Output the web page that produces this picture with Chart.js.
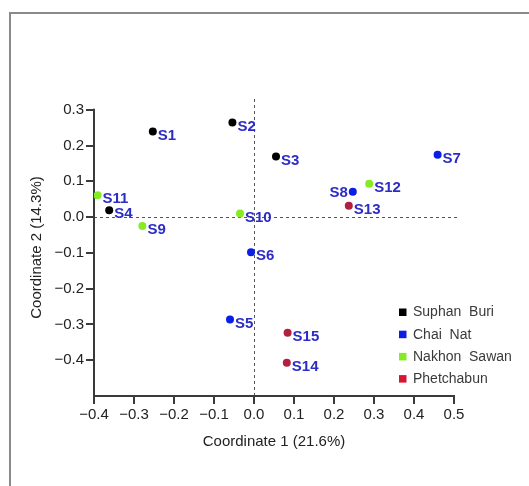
<!DOCTYPE html>
<html>
<head>
<meta charset="utf-8">
<script src="https://cdn.jsdelivr.net/npm/chart.js@4/dist/chart.umd.min.js"></script>
<style>
  html, body { margin: 0; padding: 0; background: #ffffff; }
  #wrap { position: relative; width: 529px; height: 486px; overflow: hidden; }
  #frame { position: absolute; left: 9px; top: 12px; width: 600px; height: 600px;
           border-left: 2px solid #8a8a8a; border-top: 2px solid #8a8a8a; }
  canvas { position: absolute; left: 0; top: 0; }
</style>
</head>
<body>
<div id="wrap">
  <div id="frame"></div>
  <canvas id="c" width="529" height="486"></canvas>
</div>
<script>
// ---- data ----
const groupNames = ['Suphan Buri', 'Chai Nat', 'Nakhon Sawan', 'Phetchabun'];

const suphanLabels = ['S1', 'S2', 'S3', 'S4'];
const suphanX = [-0.253, -0.054, 0.055, -0.362];
const suphanY = [0.239, 0.264, 0.169, 0.019];

const chaiLabels = ['S5', 'S6', 'S7', 'S8'];
const chaiX = [-0.060, -0.0075, 0.459, 0.247];
const chaiY = [-0.286, -0.098, 0.174, 0.071];

const nakhonLabels = ['S9', 'S10', 'S11', 'S12'];
const nakhonX = [-0.279, -0.035, -0.391, 0.288];
const nakhonY = [-0.025, 0.010, 0.061, 0.093];

const phetLabels = ['S13', 'S14', 'S15'];
const phetX = [0.237, 0.082, 0.084];
const phetY = [0.032, -0.407, -0.323];

const xTickValues = [-0.4, -0.3, -0.2, -0.1, 0.0, 0.1, 0.2, 0.3, 0.4, 0.5];
const yTickValues = [-0.4, -0.3, -0.2, -0.1, 0.0, 0.1, 0.2, 0.3];

const xTitle = 'Coordinate 1 (21.6%)';
const yTitle = 'Coordinate 2 (14.3%)';

// ---- styling ----
const markerColors = ['#000000', '#0a1ee6', '#86ec22', '#b3203f'];
const legendColors = ['#000000', '#0a1ee6', '#86ec22', '#d81433'];
const labelColor = '#2c2cc6';
const axisColor = '#3a3a3a';

function pts(xs, ys) { return xs.map((x, i) => ({ x: x, y: ys[i] })); }
const groupLabels = [suphanLabels, chaiLabels, nakhonLabels, phetLabels];
const groupData = [pts(suphanX, suphanY), pts(chaiX, chaiY), pts(nakhonX, nakhonY), pts(phetX, phetY)];

const datasets = groupNames.map((name, i) => ({
  label: name,
  data: groupData[i],
  pointLabels: groupLabels[i],
  backgroundColor: markerColors[i],
  borderColor: markerColors[i],
  pointRadius: 4,
  pointHoverRadius: 4,
  borderWidth: 0
}));

function fmt(v) {
  const s = Math.abs(v).toFixed(1);
  return v < -1e-9 ? '\u2212' + s : s;
}

const overlay = {
  id: 'overlay',
  beforeDatasetsDraw(chart) {
    const ctx = chart.ctx;
    const xs = chart.scales.x, ys = chart.scales.y;
    const ca = chart.chartArea;
    ctx.save();
    // dashed zero lines
    ctx.strokeStyle = '#555555';
    ctx.lineWidth = 1;
    ctx.setLineDash([3, 3]);
    const x0 = Math.round(xs.getPixelForValue(0)) + 0.5;
    const y0 = Math.round(ys.getPixelForValue(0)) + 0.5;
    ctx.beginPath();
    ctx.moveTo(x0, ca.top);
    ctx.lineTo(x0, ca.bottom);
    ctx.moveTo(ca.left, y0);
    ctx.lineTo(xs.getPixelForValue(0.5) + 3, y0);
    ctx.stroke();
    ctx.setLineDash([]);
    // axis lines
    ctx.strokeStyle = axisColor;
    ctx.lineWidth = 2;
    const xl = xs.getPixelForValue(-0.4);
    const yb = ys.getPixelForValue(ys.min);
    ctx.beginPath();
    ctx.moveTo(xl, ys.getPixelForValue(0.3) - 1);
    ctx.lineTo(xl, yb);
    ctx.lineTo(xs.getPixelForValue(0.5) + 1, yb);
    ctx.stroke();
    ctx.restore();
  },
  afterDatasetsDraw(chart) {
    const ctx = chart.ctx;
    ctx.save();
    ctx.font = 'bold 15px "Liberation Sans", Arial, sans-serif';
    ctx.fillStyle = labelColor;
    ctx.textBaseline = 'middle';
    chart.data.datasets.forEach((ds, di) => {
      const meta = chart.getDatasetMeta(di);
      meta.data.forEach((el, j) => {
        const lab = ds.pointLabels[j];
        if (lab === 'S8') {
          ctx.textAlign = 'right';
          ctx.fillText(lab, el.x - 5, el.y + 1);
        } else {
          ctx.textAlign = 'left';
          ctx.fillText(lab, el.x + 5, el.y + 4);
        }
      });
    });
    // legend
    ctx.font = '14px "Liberation Sans", Arial, sans-serif';
    ctx.textAlign = 'left';
    ctx.textBaseline = 'middle';
    const lx = 399, ly0 = 312, step = 22.2;
    groupNames.forEach((name, i) => {
      const cy = ly0 + i * step;
      ctx.fillStyle = legendColors[i];
      ctx.fillRect(lx, cy - 3.5, 7.5, 7.5);
      ctx.fillStyle = '#3a3a3a';
      ctx.fillText(name.replace(' ', '  '), lx + 14, cy + 0.5);
    });
    ctx.restore();
  }
};

new Chart(document.getElementById('c'), {
  type: 'scatter',
  data: { datasets: datasets },
  options: {
    responsive: false,
    animation: false,
    events: [],
    layout: { padding: { top: 99, right: 75, left: 0, bottom: 0 } },
    plugins: { legend: { display: false }, tooltip: { enabled: false } },
    scales: {
      x: {
        type: 'linear',
        min: -0.4, max: 0.5,
        afterFit(s) { s.height = 90; },
        afterBuildTicks(s) { s.ticks = xTickValues.map(v => ({ value: v })); },
        border: { display: false },
        grid: { display: true, drawOnChartArea: false, drawTicks: true, tickLength: 8, color: axisColor, lineWidth: 2 },
        ticks: {
          padding: 2,
          color: '#222222',
          font: { family: '"Liberation Sans", Arial, sans-serif', size: 15 },
          maxRotation: 0,
          autoSkip: false,
          callback: (v) => fmt(v)
        },
        title: {
          display: true, text: xTitle, color: '#222222',
          font: { family: '"Liberation Sans", Arial, sans-serif', size: 15 },
          padding: { top: 0, bottom: 35 }
        }
      },
      y: {
        type: 'linear',
        min: -0.5, max: 0.33,
        afterFit(s) { s.width = 94; },
        afterBuildTicks(s) { s.ticks = yTickValues.map(v => ({ value: v })); },
        border: { display: false },
        grid: { display: true, drawOnChartArea: false, drawTicks: true, tickLength: 8, color: axisColor, lineWidth: 2 },
        ticks: {
          padding: 2,
          color: '#222222',
          font: { family: '"Liberation Sans", Arial, sans-serif', size: 15 },
          autoSkip: false,
          callback: (v) => fmt(v)
        },
        title: {
          display: true, text: yTitle, color: '#222222',
          font: { family: '"Liberation Sans", Arial, sans-serif', size: 15 },
          padding: { top: 28, bottom: 0 }
        }
      }
    }
  },
  plugins: [overlay]
});
</script>
</body>
</html>
